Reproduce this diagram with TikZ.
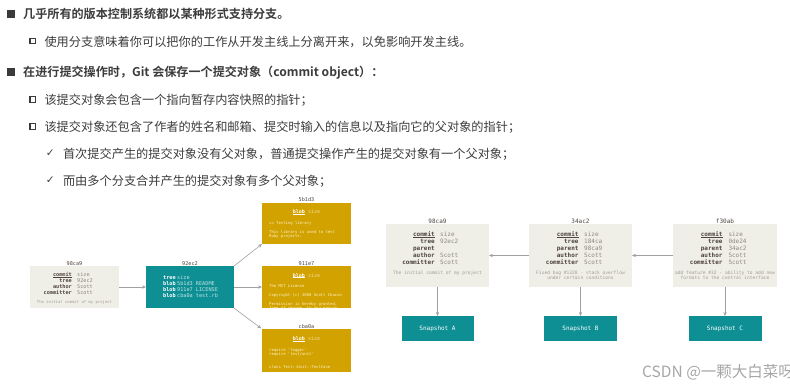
\documentclass[tikz,border=0pt]{standalone}
\usepackage{fontspec}
\setmainfont{Noto Sans CJK SC}[BoldFont={Noto Sans CJK SC Bold}]
\newfontfamily\mono{DejaVu Sans Mono}[Ligatures=TeXOff]
\newfontfamily\sym{DejaVu Sans}
\usetikzlibrary{arrows.meta}
\newcommand\ulin[1]{\setbox0\hbox{#1}\rlap{\rule[-0.8pt]{\wd0}{0.4pt}}\box0}
\definecolor{txt}{HTML}{3C3C3C}
\definecolor{bulc}{HTML}{3A3A3A}
\definecolor{cbg}{HTML}{F0EFE7}
\definecolor{tealc}{HTML}{0E8F94}
\definecolor{goldc}{HTML}{D1A200}
\definecolor{keyc}{HTML}{4E443C}
\definecolor{valc}{HTML}{8F877C}
\definecolor{descc}{HTML}{A39C92}
\definecolor{arrc}{HTML}{A0A0A0}
\definecolor{tval}{HTML}{BFE3E3}
\definecolor{gval}{HTML}{F3DC9C}
\definecolor{gbody}{HTML}{FFF1C8}
\tikzset{
  box/.style={inner sep=0, outer sep=0, draw=none},
  commitbox/.style={box, fill=cbg},
  treebox/.style={box, fill=tealc},
  blobbox/.style={box, fill=goldc},
  snapbox/.style={box, fill=tealc, text=white, font=\mono\fontsize{6}{7}\selectfont},
  arr/.style={draw=arrc, line width=0.6pt, -{Stealth[length=4pt,width=3.4pt]}},
  lhash/.style={inner sep=0, anchor=mid, text=keyc, font=\mono\fontsize{5.2}{6}\selectfont},
  rhash/.style={inner sep=0, anchor=mid, text=keyc, font=\mono\fontsize{6}{7}\selectfont},
  lkey/.style={inner sep=0, anchor=mid east, text=keyc, font=\mono\bfseries\fontsize{5.2}{6}\selectfont},
  lval/.style={inner sep=0, anchor=mid west, text=valc, font=\mono\fontsize{5.2}{6}\selectfont},
  rkey/.style={inner sep=0, anchor=mid east, text=keyc, font=\mono\bfseries\fontsize{6}{7}\selectfont},
  rval/.style={inner sep=0, anchor=mid west, text=valc, font=\mono\fontsize{6}{7}\selectfont},
  ldesc/.style={inner sep=0, anchor=mid, text=descc, font=\mono\fontsize{3.9}{4.5}\selectfont},
  rdesc/.style={inner sep=0, anchor=mid, text=descc, font=\mono\fontsize{4.6}{5}\selectfont},
  tkey/.style={inner sep=0, anchor=mid west, text=white, font=\mono\bfseries\fontsize{5.2}{6}\selectfont},
  tvalue/.style={inner sep=0, anchor=mid west, text=tval, font=\mono\fontsize{5.2}{6}\selectfont},
  bhead/.style={inner sep=0, anchor=mid, text=white, font=\mono\fontsize{5}{6}\selectfont},
  bbody/.style={inner sep=0, anchor=mid west, text=gbody, font=\mono\fontsize{3.9}{4.5}\selectfont},
  lone/.style={inner sep=0, anchor=base west, text=txt, font=\bfseries\fontsize{12.1}{14}\selectfont},
  ltwo/.style={inner sep=0, anchor=base west, text=txt, font=\fontsize{12.2}{14}\selectfont},
  fsq/.style={inner sep=0, outer sep=0, minimum size=7.6pt, fill=bulc},
  hsq/.style={inner sep=0, outer sep=0, minimum size=5.4pt, draw=bulc, line width=1.3pt},
  chk/.style={inner sep=0, anchor=mid, text=txt, font=\sym\fontsize{10.5}{12}\selectfont}
}
\begin{document}
\begin{tikzpicture}[x=1pt,y=-1pt]
\useasboundingbox (0,0) rectangle (790,386);
% ---------- text lines ----------
\node[fsq] (q1) at (11.2,13.7) {};
\node[lone] (t1) at (23,18.3) {几乎所有的版本控制系统都以某种形式支持分支。};
\node[hsq] (q2) at (32.7,41) {};
\node[ltwo] (t2) at (44.3,46.3) {使用分支意味着你可以把你的工作从开发主线上分离开来，以免影响开发主线。};
\node[fsq] (q3) at (11.2,72) {};
\node[lone] (t3) at (23,76.6) {在进行提交操作时，Git 会保存一个提交对象（commit object）：};
\node[hsq] (q4) at (32.7,99.5) {};
\node[ltwo] (t4) at (44.3,104.1) {该提交对象会包含一个指向暂存内容快照的指针；};
\node[hsq] (q5) at (32.7,126.5) {};
\node[ltwo] (t5) at (44.3,131.1) {该提交对象还包含了作者的姓名和邮箱、提交时输入的信息以及指向它的父对象的指针；};
\node[chk] (k6) at (50.2,153.5) {✓};
\node[ltwo] (t6) at (62.8,158.1) {首次提交产生的提交对象没有父对象，普通提交操作产生的提交对象有一个父对象；};
\node[chk] (k7) at (50.2,180.5) {✓};
\node[ltwo] (t7) at (62.8,185.1) {而由多个分支合并产生的提交对象有多个父对象；};
% ---------- left diagram ----------
\node[commitbox, minimum width=89pt, minimum height=42pt] (c0) at (74.5,287) {};
\node[lhash] (c0h) at (74.5,262.5) {98ca9};
\foreach \k/\v [count=\i] in {{\ulin{commit}}/size, tree/92ec2, author/Scott, committer/Scott} {
  \node[lkey] (c0k\i) at (72,268+6*\i) {\k};
  \node[lval] (c0v\i) at (77,268+6*\i) {\v};
}
\node[ldesc] (c0d) at (74.5,300.7) {The initial commit of my project};

\node[treebox, minimum width=88pt, minimum height=42pt] (tr) at (190,287) {};
\node[lhash] (trh) at (190,262.5) {92ec2};
\foreach \k/\v [count=\i] in {tree/size, blob/5b1d3 README, blob/911e7 LICENSE, blob/cba0a test.rb} {
  \node[tkey] (trk\i) at (163,270.7+6*\i) {\k};
  \node[tvalue] (trv\i) at (177,270.7+6*\i) {\v};
}

\node[blobbox, minimum width=89pt, minimum height=41pt] (b1) at (306.5,223.5) {};
\node[lhash] (b1h) at (306.5,199) {5b1d3};
\node[bhead] (b1t) at (306.5,210.7) {{\bfseries\ulin{blob}} \textcolor{gval}{size}};
\node[bbody] (b1a) at (269,221.7) {== Testing library};
\node[bbody] (b1b) at (269,230.3) {This library is used to test};
\node[bbody] (b1c) at (269,234.7) {Ruby projects.};

\node[blobbox, minimum width=89pt, minimum height=42pt] (b2) at (306.5,287) {};
\node[lhash] (b2h) at (306.5,262.5) {911e7};
\node[bhead] (b2t) at (306.5,274.3) {{\bfseries\ulin{blob}} \textcolor{gval}{size}};
\begin{scope}
\clip (b2.south west) rectangle (b2.north east);
\node[bbody] (b2a) at (269,285) {The MIT License};
\node[bbody] (b2b) at (269,293.7) {Copyright (c) 2008 Scott Chacon};
\node[bbody] (b2c) at (269,302.7) {Permission is hereby granted,};
\node[bbody] (b2d) at (269,307) {free of charge, to any person};
\end{scope}

\node[blobbox, minimum width=89pt, minimum height=43pt] (b3) at (306.5,350.5) {};
\node[lhash] (b3h) at (306.5,326) {cba0a};
\node[bhead] (b3t) at (306.5,337.7) {{\bfseries\ulin{blob}} \textcolor{gval}{size}};
\node[bbody] (b3a) at (269,348.3) {require 'logger'};
\node[bbody] (b3b) at (269,352.7) {require 'test/unit'};
\node[bbody] (b3c) at (269,365.7) {class Test::Unit::TestCase};

\draw[arr] (c0) -- (tr);
\draw[arr] (tr.north east) -- (b1.south west);
\draw[arr] (tr) -- (b2);
\draw[arr, shorten >=1pt] (tr.south east) -- (b3.north west);
% ---------- right diagram ----------
\node[commitbox, minimum width=103pt, minimum height=63pt] (cA) at (437.5,255.5) {};
\node[rhash] (cAh) at (437.5,221) {98ca9};
\foreach \k/\v [count=\i] in {{\ulin{commit}}/size, tree/92ec2, parent/{}, author/Scott, committer/Scott} {
  \node[rkey] (cAk\i) at (435,227+7*\i) {\k};
  \node[rval] (cAv\i) at (440,227+7*\i) {\v};
}
\node[rdesc] (cAd) at (437.5,271.7) {The initial commit of my project};

\node[commitbox, minimum width=103pt, minimum height=63pt] (cB) at (580.5,255.5) {};
\node[rhash] (cBh) at (580.5,221) {34ac2};
\foreach \k/\v [count=\i] in {{\ulin{commit}}/size, tree/184ca, parent/98ca9, author/Scott, committer/Scott} {
  \node[rkey] (cBk\i) at (578.7,227+7*\i) {\k};
  \node[rval] (cBv\i) at (584,227+7*\i) {\v};
}
\node[rdesc] (cBd1) at (580.5,271.7) {Fixed bug \#1328 - stack overflow};
\node[rdesc] (cBd2) at (580.5,276.9) {under certain conditions};

\node[commitbox, minimum width=104pt, minimum height=63pt] (cC) at (725,255.5) {};
\node[rhash] (cCh) at (725,221) {f30ab};
\foreach \k/\v [count=\i] in {{\ulin{commit}}/size, tree/0de24, parent/34ac2, author/Scott, committer/Scott} {
  \node[rkey] (cCk\i) at (722.7,227+7*\i) {\k};
  \node[rval] (cCv\i) at (728.3,227+7*\i) {\v};
}
\node[rdesc] (cCd1) at (725,271.7) {add feature \#32 - ability to add new};
\node[rdesc] (cCd2) at (725,276.9) {formats to the central interface};

\node[snapbox, minimum width=72pt, minimum height=25pt] (sA) at (437.5,328.5) {Snapshot A};
\node[snapbox, minimum width=73pt, minimum height=25pt] (sB) at (580.5,328.5) {Snapshot B};
\node[snapbox, minimum width=73pt, minimum height=25pt] (sC) at (725,328.5) {Snapshot C};

\draw[arr] (cB) -- (cA);
\draw[arr] (cC) -- (cB);
\draw[arr] (cA) -- (sA);
\draw[arr] (cB) -- (sB);
\draw[arr] (cC) -- (sC);
% ---------- watermark ----------
\node[inner sep=0, anchor=base west, text=black!35, font=\fontsize{15.5}{18}\selectfont] (wm) at (642,377) {CSDN @一颗大白菜呀};
\end{tikzpicture}
\end{document}
